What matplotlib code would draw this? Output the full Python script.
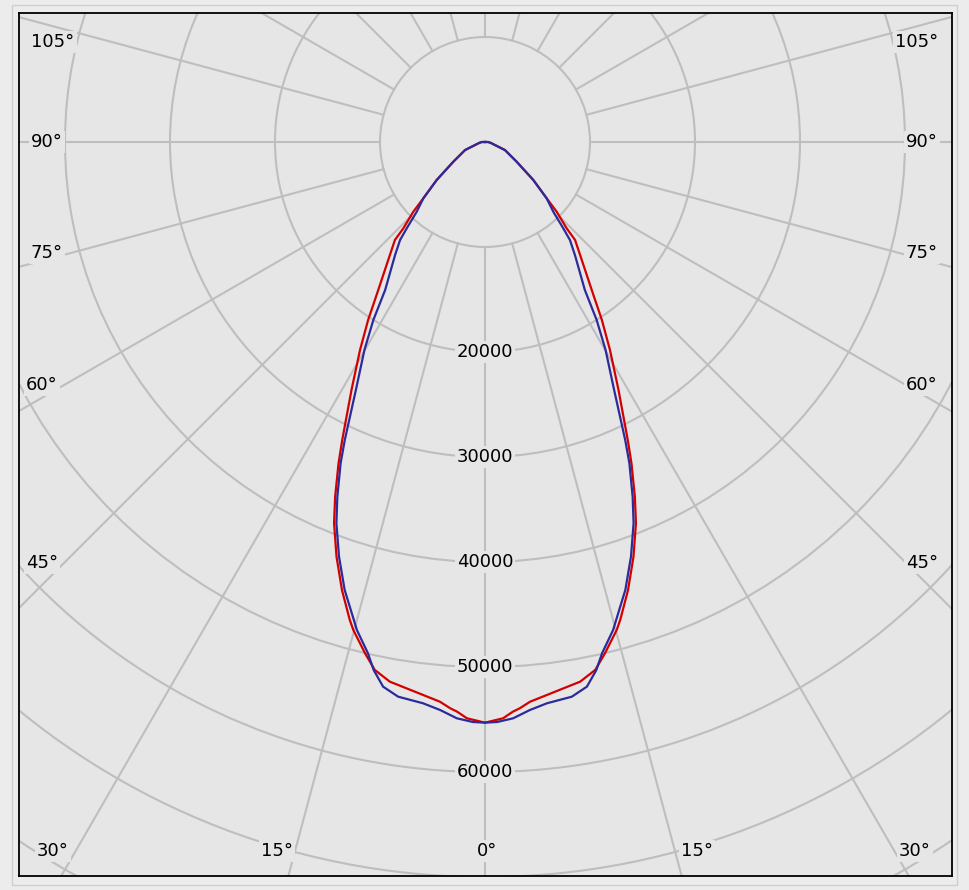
import numpy as np
import matplotlib.pyplot as plt
from matplotlib.patches import Circle, Rectangle

# Luminous intensity (cd) vs gamma angle (deg), one half of each plane
gamma_red = [0, 1.8, 2.8, 3.5, 4.6, 6.4, 8.2, 10.0, 11.8, 13.2, 15.1, 15.8, 17.7, 19.7,
             21.6, 22.9, 24.5, 25.6, 28.3, 31.0, 33.3, 35.8, 40.1, 42.6, 43.4, 45.8,
             47.6, 51.8, 58.1, 68, 73, 80, 90, 180]
cd_red = [55300, 54910, 54320, 54040, 53480, 52990, 52560, 52190, 51360, 50020, 48140,
          47300, 44800, 41950, 39050, 36680, 33640, 31470, 26820, 23110, 20270, 17380,
          14060, 12670, 11320, 9520, 7950, 5860, 3550, 2050, 1000, 600, 300, 0]

gamma_blue = [0, 1.2, 2.8, 4.5, 6.3, 8.9, 10.6, 11.9, 12.9, 14.7, 17.4, 19.4, 21.3, 22.6,
              24.2, 25.2, 27.5, 30.1, 32.1, 34.0, 38.5, 40.9, 42.2, 44.4, 47.6, 51.8,
              58.1, 68, 73, 80, 90, 180]
cd_blue = [55300, 55250, 54950, 54270, 53780, 53470, 52770, 51400, 49950, 48060, 44700,
           41860, 38960, 36590, 33550, 31360, 26640, 22900, 20010, 17010, 13760, 12360,
           11100, 9300, 7950, 5860, 3550, 2050, 1000, 600, 300, 0]

ring_values = [10000, 20000, 30000, 40000, 50000, 60000, 70000, 80000]
ring_labels = [20000, 30000, 40000, 50000, 60000]
spoke_step = 15

# angle labels: text and pixel position in the picture
angle_labels = [("105°", 53, 42), ("90°", 47, 142), ("75°", 47, 253), ("60°", 42, 385),
                ("45°", 42, 563), ("30°", 53, 851), ("15°", 277, 851), ("0°", 487, 851),
                ("15°", 697, 851), ("30°", 915, 851), ("45°", 922, 563), ("60°", 922, 385),
                ("75°", 922, 253), ("90°", 922, 142), ("105°", 917, 42)]

bg = '#e6e6e6'
grid_col = '#bebebe'

# pixel geometry of the plot
W, H = 969, 890
cx, cy = 485, 142          # pole position in pixels
px_per_10k = 105.0
k = 10000.0 / px_per_10k   # cd per pixel
left, right, top, bottom = 19, 952, 13, 876

fig = plt.figure(figsize=(W / 100, H / 100), dpi=100)
fig.patch.set_facecolor('#ececec')
fig.patches.append(Rectangle((12 / W, 1 - 885 / H), (957 - 12) / W, (885 - 5) / H,
                             transform=fig.transFigure, fill=False,
                             edgecolor='#cfcfcf', lw=1.0))

ax = fig.add_axes([left / W, 1 - bottom / H, (right - left) / W, (bottom - top) / H])
ax.set_facecolor(bg)
ax.set_xlim((left - cx) * k, (right - cx) * k)
ax.set_ylim((cy - bottom) * k, (cy - top) * k)
ax.set_xticks([])
ax.set_yticks([])
for s in ax.spines.values():
    s.set_color('black')
    s.set_linewidth(1.3)

# polar grid
for r in ring_values:
    ax.add_patch(Circle((0, 0), r, fill=False, edgecolor=grid_col, lw=1.5, zorder=1))
for a in np.arange(0, 360, spoke_step):
    t = np.radians(a)
    ax.plot([10000 * np.sin(t), 120000 * np.sin(t)],
            [-10000 * np.cos(t), -120000 * np.cos(t)],
            color=grid_col, lw=1.5, zorder=1)

font = dict(fontsize=13, family='DejaVu Sans', color='black')
box = dict(facecolor=bg, edgecolor='none', pad=1.5)
for v in ring_labels:
    ax.text(0, -v, str(v), ha='center', va='center', bbox=box, zorder=3, **font)
for txt, px, py in angle_labels:
    ax.text((px - cx) * k, (cy - py) * k, txt, ha='center', va='center',
            bbox=box, zorder=3, **font)


def full_curve(gam, cd):
    g = np.array(gam, dtype=float)
    v = np.array(cd, dtype=float)
    g = np.concatenate([-g[::-1], g[1:]])
    v = np.concatenate([v[::-1], v[1:]])
    t = np.radians(g)
    return v * np.sin(t), -v * np.cos(t)


xr, yr = full_curve(gamma_red, cd_red)
xb, yb = full_curve(gamma_blue, cd_blue)
ax.plot(xr, yr, color='#d40000', lw=1.6, zorder=4)
ax.plot(xb, yb, color='#2b2b9c', lw=1.6, zorder=5)

fig.savefig('out.png', dpi=100, facecolor=fig.get_facecolor())
